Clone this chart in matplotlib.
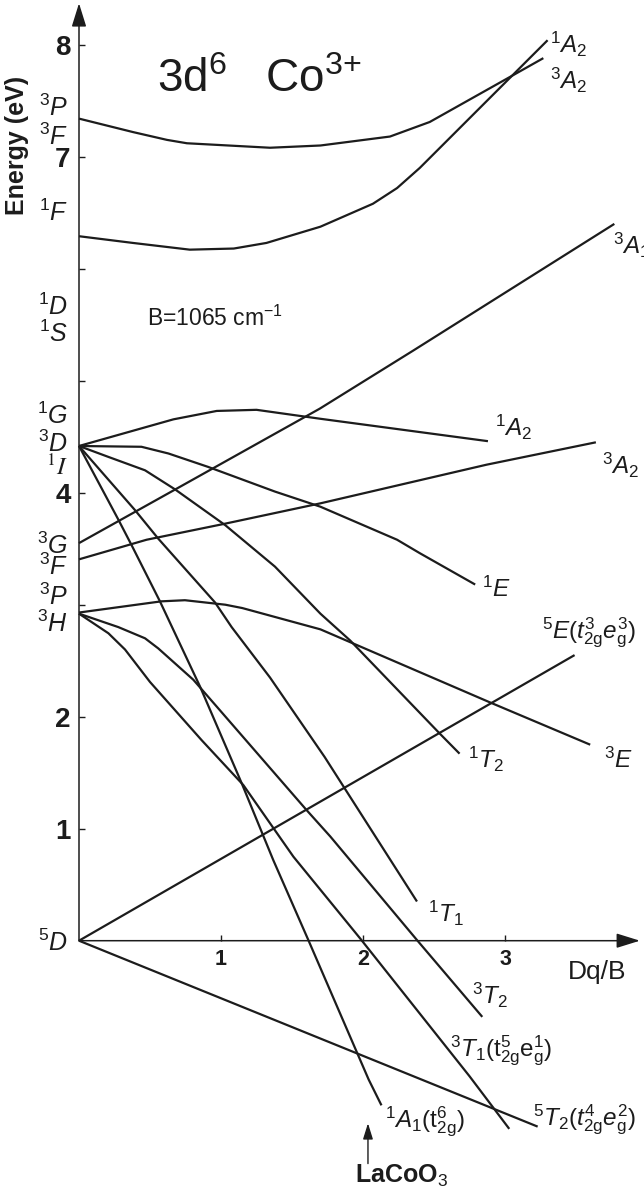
import numpy as np
import matplotlib.pyplot as plt

plt.rcParams['font.family'] = 'Liberation Sans'
plt.rcParams['mathtext.fontset'] = 'custom'
plt.rcParams['mathtext.rm'] = 'Liberation Sans'
plt.rcParams['mathtext.it'] = 'Liberation Sans:italic'
plt.rcParams['mathtext.bf'] = 'Liberation Sans:bold'

# Tanabe-Sugano d6 (Co3+), Dq/B vs energy in eV
dq_3A2_top = [0, 0.38, 0.62, 0.76, 1.345, 1.70, 2.19, 2.47, 3.06, 3.27]
en_3A2_top = [7.34, 7.22, 7.15, 7.12, 7.08, 7.10, 7.18, 7.31, 7.73, 7.88]
dq_1A2_top = [0, 0.38, 0.78, 1.09, 1.32, 1.70, 2.07, 2.24, 2.40, 3.30]
en_1A2_top = [6.29, 6.23, 6.17, 6.18, 6.23, 6.375, 6.58, 6.72, 6.90, 8.04]
dq_3A1 = [0, 0.665, 1.695, 2.355, 3.77]
en_3A1 = [3.55, 4.02, 4.75, 5.27, 6.40]
dq_3A2 = [0, 0.476, 1.016, 1.70, 2.87, 3.64]
en_3A2 = [3.405, 3.58, 3.72, 3.905, 4.25, 4.45]
dq_1A2 = [0, 0.665, 0.97, 1.25, 1.70, 2.88]
en_1A2 = [4.417, 4.655, 4.73, 4.74, 4.66, 4.46]
dq_1E = [0, 0.44, 0.63, 0.91, 1.38, 1.70, 2.24, 2.40, 2.79]
en_1E = [4.417, 4.41, 4.35, 4.23, 4.01, 3.875, 3.58, 3.46, 3.18]
dq_1T2 = [0, 0.206, 0.465, 0.676, 1.03, 1.38, 1.70, 1.91, 2.54, 2.68]
en_1T2 = [4.417, 4.32, 4.20, 4.03, 3.71, 3.34, 2.92, 2.68, 1.85, 1.67]
dq_1T1 = [0, 0.394, 0.558, 0.958, 1.075, 1.345, 1.73, 2.38]
en_1T1 = [4.417, 3.845, 3.59, 3.02, 2.80, 2.35, 1.64, 0.35]
dq_1A1 = [0, 0.277, 0.371, 0.570, 0.852, 1.146, 1.368, 1.615, 2.04, 2.13]
en_1A1 = [4.417, 3.76, 3.53, 3.03, 2.27, 1.405, 0.72, 0.006, -1.24, -1.47]
dq_3E = [0, 0.58, 0.746, 1.03, 1.15, 1.70, 2.89, 3.60]
en_3E = [2.93, 3.03, 3.04, 3.00, 2.97, 2.78, 2.13, 1.75]
dq_3T2 = [0, 0.277, 0.465, 0.558, 0.805, 0.97, 1.60, 1.77, 2.38, 2.84]
en_3T2 = [2.92, 2.80, 2.70, 2.61, 2.33, 2.09, 1.17, 0.93, 0.006, -0.68]
dq_3T1 = [0, 0.207, 0.324, 0.5, 0.864, 1.157, 1.51, 1.98, 2.75, 3.03]
en_3T1 = [2.92, 2.745, 2.60, 2.31, 1.79, 1.39, 0.75, 0.02, -1.21, -1.68]
dq_5E = [0, 3.49]
en_5E = [0, 2.55]
dq_5T2 = [0, 3.23]
en_5T2 = [0, -1.66]

curves = [(dq_3A2_top, en_3A2_top), (dq_1A2_top, en_1A2_top), (dq_3A1, en_3A1),
          (dq_3A2, en_3A2), (dq_1A2, en_1A2), (dq_1E, en_1E), (dq_1T2, en_1T2),
          (dq_1T1, en_1T1), (dq_1A1, en_1A1), (dq_3E, en_3E), (dq_3T2, en_3T2),
          (dq_3T1, en_3T1), (dq_5E, en_5E), (dq_5T2, en_5T2)]

# free-ion terms on the left
free_ion_terms = [r'$^{3}P$', r'$^{3}F$', r'$^{1}F$', r'$^{1}D$', r'$^{1}S$',
                  r'$^{1}G$', r'$^{3}D$', r'$^{1}I$', r'$^{3}G$',
                  r'$^{3}F$', r'$^{3}P$', r'$^{3}H$', r'$^{5}D$']
free_ion_y = [7.44, 7.18, 6.50, 5.66, 5.42, 4.69, 4.44, 4.23, 3.53, 3.34, 3.07, 2.83, -0.02]

# octahedral terms at the line ends
oh_terms = [r'$^{1}A_{2}$', r'$^{3}A_{2}$', r'$^{3}A_{1}$', r'$^{1}A_{2}$', r'$^{3}A_{2}$',
            r'$^{1}E$', r'$^{5}E(t^{3}_{\mathrm{2g}}e^{3}_{\mathrm{g}})$', r'$^{1}T_{2}$',
            r'$^{3}E$', r'$^{1}T_{1}$', r'$^{3}T_{2}$',
            r'$^{3}T_{1}(\mathrm{t}^{5}_{\mathrm{2g}}\mathrm{e}^{1}_{\mathrm{g}})$',
            r'$^{1}A_{1}(\mathrm{t}^{6}_{\mathrm{2g}})$',
            r'$^{5}T_{2}(t^{4}_{\mathrm{2g}}e^{2}_{\mathrm{g}})$']
oh_pos = [(3.317, 8.0), (3.317, 7.68), (3.76, 6.21), (2.93, 4.58), (3.68, 4.24),
          (2.84, 3.14), (3.26, 2.75), (2.74, 1.62), (3.70, 1.61), (2.46, 0.24),
          (2.77, -0.49), (2.61, -0.98), (2.155, -1.62), (3.20, -1.60)]

yticks = [1, 2, 3, 4, 5, 6, 7, 8]
ytick_labels = ['1', '2', '', '4', '', '', '7', '8']
xticks = [1, 2, 3]
xtick_labels = ['1', '2', '3']

ink = '#1c1c1c'

fig = plt.figure(figsize=(6.44, 11.9), dpi=100)
ax = fig.add_axes([0, 0, 1, 1])
ax.set_xlim(-79 / 142, (644 - 79) / 142)
ax.set_ylim((940.7 - 1190) / 112, 940.7 / 112)

for dq, en in curves:
    ax.plot(dq, en, color=ink, lw=1.6, solid_joinstyle='round', solid_capstyle='butt')

# axes through the origin, drawn as arrows
for s in ax.spines.values():
    s.set_visible(False)
ax.spines['left'].set_position(('data', 0))
ax.spines['bottom'].set_position(('data', 0))
arr = dict(arrowstyle='-|>,head_length=0.9,head_width=0.28', mutation_scale=16,
           lw=1.1, color=ink, shrinkA=0, shrinkB=0)
ax.annotate('', xy=(0, 8.37), xytext=(0, 0), arrowprops=arr)
ax.annotate('', xy=(3.95, 0), xytext=(0, 0), arrowprops=arr)

ax.set_yticks(yticks)
ax.set_yticklabels(ytick_labels)
ax.set_xticks(xticks)
ax.set_xticklabels(xtick_labels)
ax.tick_params(direction='in', length=4.5, width=1, color=ink, labelcolor=ink)
ax.tick_params(axis='y', pad=6, labelsize=20)
ax.tick_params(axis='x', pad=6, labelsize=15.5)
for t in ax.get_yticklabels() + ax.get_xticklabels():
    t.set_fontweight('bold')

for txt, y in zip(free_ion_terms, free_ion_y):
    if 'I' in txt:
        ax.text(-0.077, y, txt, ha='right', va='center', fontsize=18, color=ink,
                math_fontfamily='stix')
    else:
        ax.text(-0.077, y, txt, ha='right', va='center', fontsize=18, color=ink)

for txt, (x, y) in zip(oh_terms, oh_pos):
    ax.text(x, y, txt, ha='left', va='center', fontsize=17.5, color=ink)

ax.text(0.55, 7.58, r'3d$^{6}$   Co$^{3{+}}$', fontsize=33, va='baseline', color=ink)
ax.text(0.48, 5.56, r'B=1065 cm$^{-1}$', fontsize=16.5, va='center', color=ink)
ax.text(-0.44, 7.10, 'Energy (eV)', rotation=90, ha='center', va='center',
        fontsize=18, fontweight='bold', color=ink)
ax.text(3.44, -0.28, 'Dq/B', fontsize=19, va='center', color=ink)

ax.annotate('', xy=(2.035, -1.63), xytext=(2.035, -1.99),
            arrowprops=dict(arrowstyle='-|>,head_length=0.8,head_width=0.25',
                            mutation_scale=12, lw=1.0, color=ink, shrinkA=0, shrinkB=0))
ax.text(2.27, -2.10, r'LaCoO$_3$', fontsize=18, fontweight='bold', ha='center',
        va='center', color=ink)

fig.savefig('out.png', dpi=100)
